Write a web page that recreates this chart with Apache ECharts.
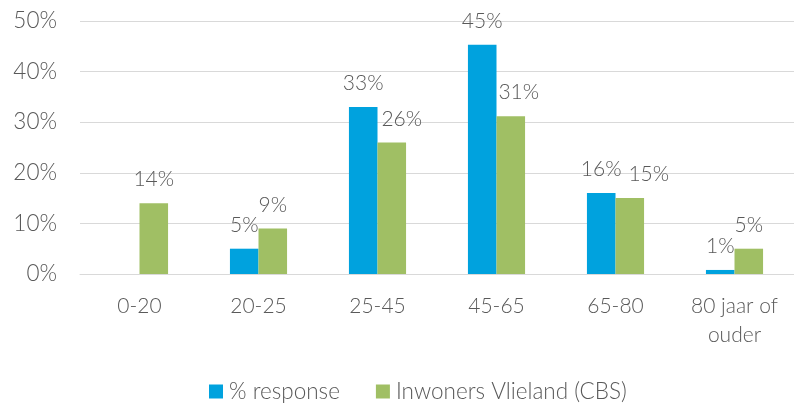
<!DOCTYPE html>
<html>
<head>
<meta charset="utf-8">
<script src="https://cdn.jsdelivr.net/npm/echarts@6/dist/echarts.min.js"></script>
<style>html,body{margin:0;padding:0;background:#fff;}#c{width:794px;height:403px;}</style>
</head>
<body>
<div id="c"></div>
<script>
const categories = ['0-20', '20-25', '25-45', '45-65', '65-80', '80 jaar of\nouder'];
const seriesNames = ['% response', 'Inwoners Vlieland (CBS)'];
const responseValues = [null, 5, 33, 45.3, 16, 0.8];
const cbsValues = [14, 9, 26, 31.2, 15, 5];
const yTicks = [0, 10, 20, 30, 40, 50];

// horizontal nudges of some data labels (as in the original)
const cbsLabelShift = [0, 0, 10, 8, 19, 0];

const font = 'Lato, "Open Sans", sans-serif';
const txt = '#595959';
const chart = echarts.init(document.getElementById('c'), null, {renderer: 'canvas'});

function labelData(vals, shifts) {
  return vals.map((v, i) => ({
    value: v,
    label: shifts ? {offset: [shifts[i], 0]} : undefined
  }));
}

const labelStyle = {
  show: true,
  position: 'top',
  distance: 13,
  color: txt,
  fontFamily: font,
  fontWeight: 300,
  fontSize: 21,
  formatter: p => (p.value == null ? '' : Math.round(p.value) + '%')
};

chart.setOption({
  animation: false,
  textStyle: {fontFamily: font},
  grid: {left: 80, top: 21, width: 720, height: 253, containLabel: false},
  legend: {
    top: 380,
    left: 209,
    padding: 0,
    itemWidth: 14,
    itemHeight: 14,
    itemGap: 36,
    icon: 'rect',
    textStyle: {color: txt, fontSize: 22.5, lineHeight: 21, fontFamily: font, fontWeight: 300, padding: [0, 0, 0, 1]},
    data: seriesNames
  },
  xAxis: {
    type: 'category',
    data: categories,
    axisLine: {show: true, lineStyle: {color: '#D9D9D9', width: 1}},
    axisTick: {show: false},
    axisLabel: {
      color: txt, fontSize: 21, fontFamily: font, fontWeight: 300,
      lineHeight: 29, margin: 18, interval: 0
    }
  },
  yAxis: {
    type: 'value',
    min: yTicks[0],
    max: yTicks[yTicks.length - 1],
    interval: 10,
    axisLine: {show: false},
    axisTick: {show: false},
    splitLine: {lineStyle: {color: '#D9D9D9', width: 1}},
    axisLabel: {
      color: txt, fontSize: 22.5, fontFamily: font, fontWeight: 300, margin: 23,
      formatter: v => v + '%'
    }
  },
  series: [
    {
      name: seriesNames[0],
      type: 'bar',
      data: labelData(responseValues),
      itemStyle: {color: '#00A2DE'},
      barWidth: '24%',
      barGap: '0%',
      label: labelStyle
    },
    {
      name: seriesNames[1],
      type: 'bar',
      data: labelData(cbsValues, cbsLabelShift),
      itemStyle: {color: '#A0BF64'},
      barWidth: '24%',
      barGap: '0%',
      label: labelStyle
    }
  ]
});
</script>
</body>
</html>
